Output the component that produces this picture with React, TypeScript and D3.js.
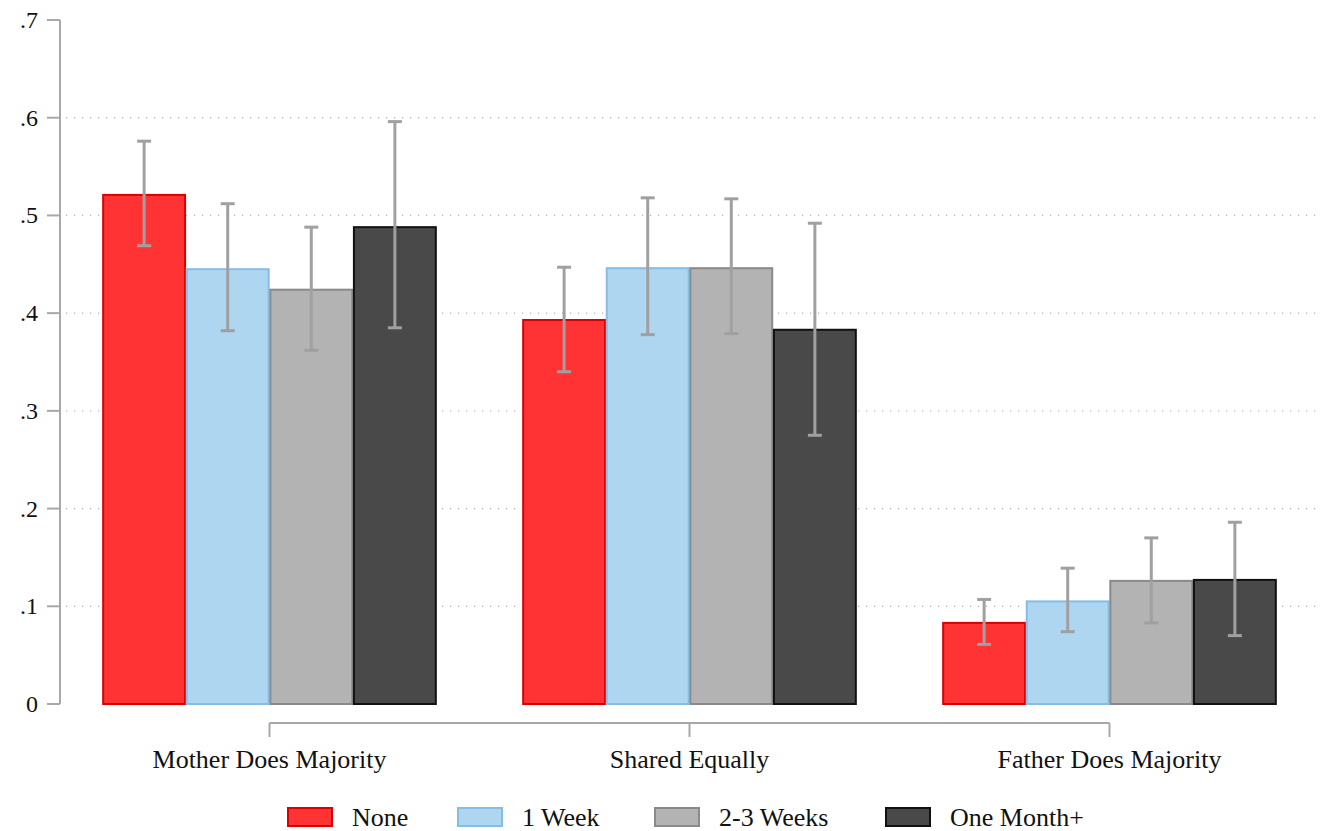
import React from "react";
import * as d3 from "d3";

const categories = ["Mother Does Majority", "Shared Equally", "Father Does Majority"];
const seriesNames = ["None", "1 Week", "2-3 Weeks", "One Month+"];
// values[series][category]
const valNone = [0.521, 0.393, 0.083];
const val1Week = [0.445, 0.446, 0.105];
const val23Weeks = [0.424, 0.446, 0.126];
const valMonth = [0.488, 0.383, 0.127];
const loNone = [0.469, 0.340, 0.061];
const hiNone = [0.576, 0.447, 0.107];
const lo1Week = [0.382, 0.378, 0.074];
const hi1Week = [0.512, 0.518, 0.139];
const lo23Weeks = [0.362, 0.379, 0.083];
const hi23Weeks = [0.488, 0.517, 0.170];
const loMonth = [0.385, 0.275, 0.070];
const hiMonth = [0.596, 0.492, 0.186];
const yTicks = [0, 0.1, 0.2, 0.3, 0.4, 0.5, 0.6, 0.7];
const yTickLabels = ["0", ".1", ".2", ".3", ".4", ".5", ".6", ".7"];

const fills = ["#ff3333", "#aed6f0", "#b3b3b3", "#494949"];
const strokes = ["#dd0000", "#86bde6", "#8a8a8a", "#111111"];

export default function App() {
  const W = 1332, H = 831;
  const font = "'Liberation Serif', serif";
  const y = d3.scaleLinear().domain([0, 0.7]).range([704, 20]);
  const x0 = d3.scalePoint().domain(categories).range([269.5, 1109.5]);
  const groupW = 336;
  const x1 = d3.scaleBand().domain(seriesNames).range([-groupW / 2, groupW / 2]).padding(0.02);
  const center = (c: string) => x0(c) as number;
  const vals = [valNone, val1Week, val23Weeks, valMonth];
  const los = [loNone, lo1Week, lo23Weeks, loMonth];
  const his = [hiNone, hi1Week, hi23Weeks, hiMonth];
  const legendX = [288, 458, 655, 886];

  return (
    <svg width={W} height={H} style={{ position: "absolute", left: 0, top: 0, background: "#fff" }} fontFamily={font}>
      {/* grid */}
      {yTicks.filter((t) => t > 0 && t < 0.7).map((t) => (
        <line key={t} x1={66} x2={1322} y1={y(t)} y2={y(t)} stroke="#b0b0b0" strokeWidth={1.2} strokeDasharray="1.2,6.8" />
      ))}
      {/* y axis */}
      <line x1={60} x2={60} y1={y(0.7)} y2={y(0)} stroke="#a8a8a8" strokeWidth={2} />
      {yTicks.map((t, i) => (
        <g key={t}>
          <line x1={47} x2={60} y1={y(t)} y2={y(t)} stroke="#a8a8a8" strokeWidth={2} />
          <text x={38} y={y(t) + 8} textAnchor="end" fontSize={24} fill="#111">{yTickLabels[i]}</text>
        </g>
      ))}
      {/* bars */}
      {categories.map((c, ci) => (
        <g key={c}>
          {seriesNames.map((s, si) => {
            const bx = center(c) + (x1(s) as number);
            const bw = x1.bandwidth();
            return (
              <rect key={s} x={bx} y={y(vals[si][ci])} width={bw} height={y(0) - y(vals[si][ci])}
                fill={fills[si]} stroke={strokes[si]} strokeWidth={2} />
            );
          })}
          {seriesNames.map((s, si) => {
            const cx = center(c) + (x1(s) as number) + x1.bandwidth() / 2;
            return (
              <g key={s} stroke="#a0a0a0" strokeWidth={3}>
                <line x1={cx} x2={cx} y1={y(his[si][ci])} y2={y(los[si][ci])} />
                <line x1={cx - 7} x2={cx + 7} y1={y(his[si][ci])} y2={y(his[si][ci])} />
                <line x1={cx - 7} x2={cx + 7} y1={y(los[si][ci])} y2={y(los[si][ci])} />
              </g>
            );
          })}
        </g>
      ))}
      {/* x axis */}
      <line x1={center(categories[0])} x2={center(categories[2])} y1={723} y2={723} stroke="#a8a8a8" strokeWidth={2} />
      {categories.map((c) => (
        <g key={c}>
          <line x1={center(c)} x2={center(c)} y1={723} y2={737} stroke="#a8a8a8" strokeWidth={2} />
          <text x={center(c)} y={768} textAnchor="middle" fontSize={26} fill="#111">{c}</text>
        </g>
      ))}
      {/* legend */}
      {seriesNames.map((s, si) => (
        <g key={s}>
          <rect x={legendX[si]} y={808} width={44} height={18} fill={fills[si]} stroke={strokes[si]} strokeWidth={2} />
          <text x={legendX[si] + 64} y={826} fontSize={26} fill="#111">{s}</text>
        </g>
      ))}
    </svg>
  );
}
